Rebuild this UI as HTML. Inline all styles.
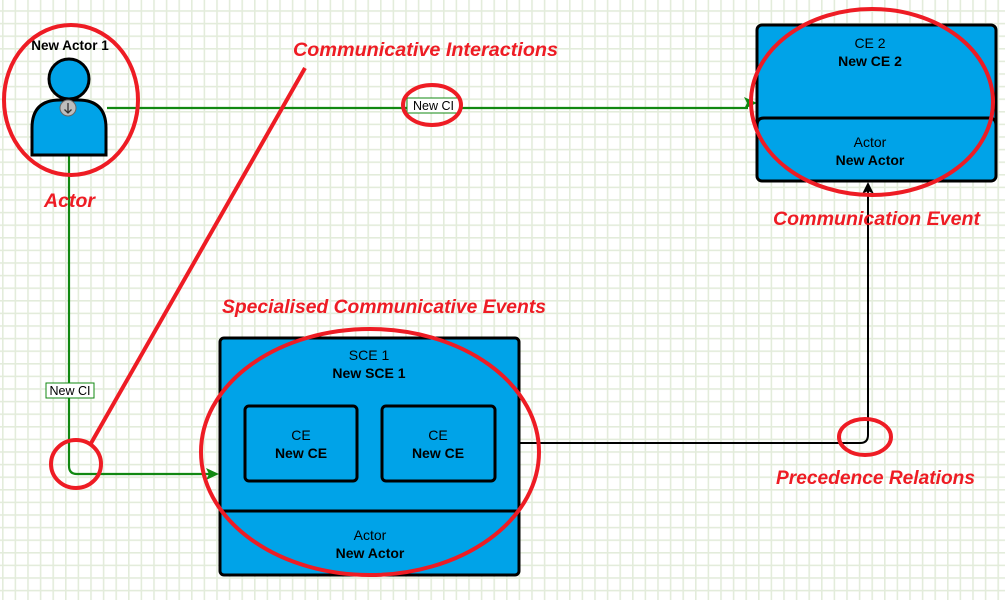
<!DOCTYPE html>
<html><head><meta charset="utf-8"><style>
html,body{margin:0;padding:0;background:#fff;}
svg{display:block;font-family:"Liberation Sans",Arial,sans-serif;}
</style></head><body>
<svg width="1005" height="600" viewBox="0 0 1005 600" xmlns="http://www.w3.org/2000/svg">
<defs>
<pattern id="g" x="2" y="10.2" width="12.6" height="12.6" patternUnits="userSpaceOnUse">
<rect x="0" y="0" width="1.6" height="12.6" fill="#e3ecdb"/>
<rect x="0" y="0" width="12.6" height="1.6" fill="#e3ecdb"/>
</pattern>
</defs>
<rect width="1005" height="600" fill="url(#g)"/>

<!-- green connectors -->
<path d="M107 108 H748" stroke="#118811" stroke-width="2.2" fill="none"/>
<polygon points="757,103 744,97 747,103 744,109" fill="#118811"/>
<rect x="407" y="98" width="53" height="15" fill="#fff" stroke="#118811" stroke-width="1"/>
<text x="433.5" y="110" font-size="12.5" text-anchor="middle" fill="#000">New CI</text>

<path d="M69 155 V466 Q69 474 77 474 H212" stroke="#118811" stroke-width="2.2" fill="none"/>
<polygon points="219,474 206,468 209,474 206,480" fill="#118811"/>
<rect x="46" y="383" width="48" height="15" fill="#fff" stroke="#118811" stroke-width="1"/>
<text x="70" y="395" font-size="12.5" text-anchor="middle" fill="#000">New CI</text>

<!-- black connector -->
<path d="M495 443 H860 Q868 443 868 435 V190" stroke="#000" stroke-width="2" fill="none"/>
<polygon points="868,182 862,194 868,191 874,194" fill="#000"/>

<!-- actor -->
<text x="70" y="50" font-size="13.5" font-weight="bold" text-anchor="middle">New Actor 1</text>
<path d="M32 155 V128 Q32 100 60 100 H78 Q106 100 106 128 V155 Z" fill="#00a3e8" stroke="#000" stroke-width="3"/>
<circle cx="69" cy="79" r="20" fill="#00a3e8" stroke="#000" stroke-width="3"/>
<circle cx="68" cy="108" r="8" fill="#bdbdbd" stroke="#666" stroke-width="1"/>
<path d="M68 103 V113 M64.5 109.5 L68 113 L71.5 109.5" stroke="#333" stroke-width="1.3" fill="none"/>

<!-- CE2 -->
<rect x="757" y="25" width="239" height="156" rx="5" fill="#00a3e8" stroke="#000" stroke-width="3"/>
<path d="M757 125 Q757 118 764 118 H989 Q996 118 996 125" stroke="#000" stroke-width="3" fill="none"/>
<text x="870" y="48" font-size="14" text-anchor="middle">CE 2</text>
<text x="870" y="66" font-size="14" font-weight="bold" text-anchor="middle">New CE 2</text>
<text x="870" y="147" font-size="14" text-anchor="middle">Actor</text>
<text x="870" y="165" font-size="14" font-weight="bold" text-anchor="middle">New Actor</text>

<!-- SCE -->
<rect x="220" y="338" width="299" height="237" rx="4" fill="#00a3e8" stroke="#000" stroke-width="3"/>
<path d="M220 511 H519" stroke="#000" stroke-width="3"/>
<text x="369" y="360" font-size="14" text-anchor="middle">SCE 1</text>
<text x="369" y="378" font-size="14" font-weight="bold" text-anchor="middle">New SCE 1</text>
<rect x="245" y="406" width="112" height="75" rx="4" fill="#00a3e8" stroke="#000" stroke-width="3"/>
<rect x="382" y="406" width="113" height="75" rx="4" fill="#00a3e8" stroke="#000" stroke-width="3"/>
<text x="301" y="440" font-size="14" text-anchor="middle">CE</text>
<text x="301" y="458" font-size="14" font-weight="bold" text-anchor="middle">New CE</text>
<text x="438" y="440" font-size="14" text-anchor="middle">CE</text>
<text x="438" y="458" font-size="14" font-weight="bold" text-anchor="middle">New CE</text>
<text x="370" y="540" font-size="14" text-anchor="middle">Actor</text>
<text x="370" y="558" font-size="14" font-weight="bold" text-anchor="middle">New Actor</text>

<!-- red annotations -->
<g stroke="#ee1c24" stroke-width="4" fill="none">
<ellipse cx="71" cy="100" rx="67" ry="75"/>
<ellipse cx="432" cy="105" rx="29" ry="20"/>
<ellipse cx="872" cy="102" rx="121" ry="93"/>
<ellipse cx="370" cy="452" rx="169" ry="123"/>
<ellipse cx="76" cy="464" rx="25" ry="24"/>
<ellipse cx="865" cy="437" rx="26" ry="18"/>
<path d="M90 445 L305 68"/>
</g>
<g fill="#ee1c24" font-size="19.6" font-weight="bold" font-style="italic">
<text x="293" y="56" textLength="265" lengthAdjust="spacingAndGlyphs">Communicative Interactions</text>
<text x="44" y="207" textLength="51" lengthAdjust="spacingAndGlyphs">Actor</text>
<text x="773" y="225" textLength="207" lengthAdjust="spacingAndGlyphs">Communication Event</text>
<text x="222" y="313" textLength="324" lengthAdjust="spacingAndGlyphs">Specialised Communicative Events</text>
<text x="776" y="484" textLength="199" lengthAdjust="spacingAndGlyphs">Precedence Relations</text>
</g>
</svg>
</body></html>
